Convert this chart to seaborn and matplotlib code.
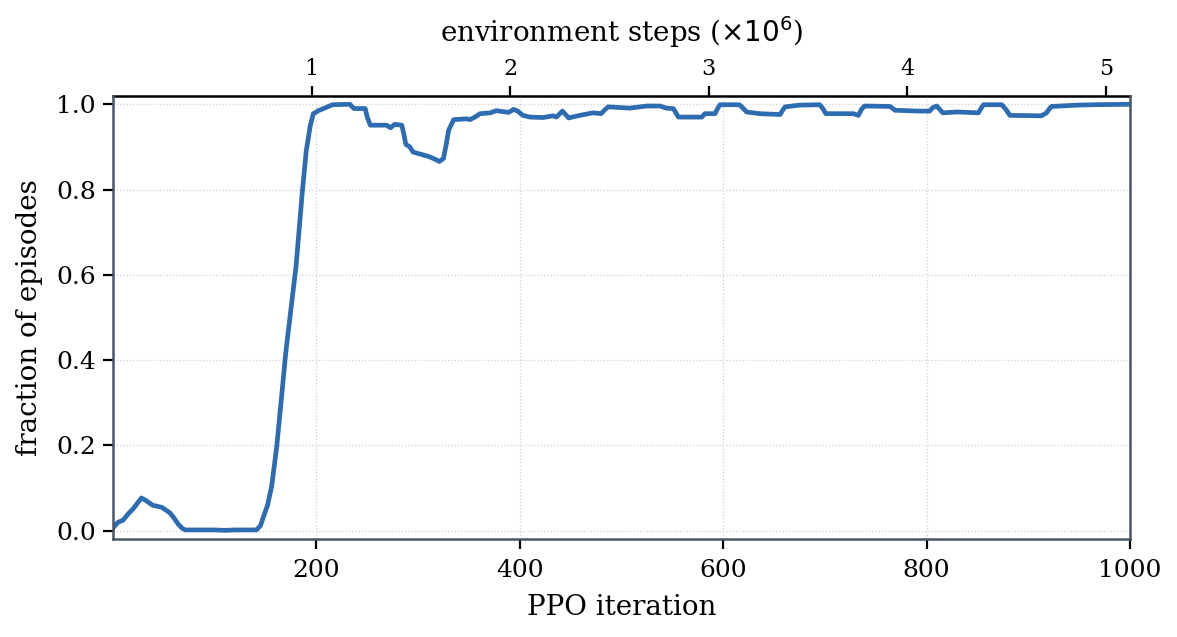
import matplotlib
matplotlib.use("Agg")
import matplotlib.pyplot as plt
import seaborn as sns
import pandas as pd

iterations = [0, 5, 10, 15, 20, 25, 28, 33, 39, 48, 56, 60, 64, 68, 71, 100, 110, 120, 141,
              145, 148, 152, 156, 161, 166, 170, 175, 180, 186, 190, 194, 197, 202, 210, 216,
              233, 237, 248, 250, 253, 269, 273, 277, 284, 286, 288, 292, 295, 310, 315, 321,
              325, 328, 330, 335, 348, 351, 356, 361, 371, 377, 389, 394, 398, 403, 410, 423,
              433, 436, 442, 448, 459, 472, 480, 484, 487, 508, 525, 538, 544, 551, 554, 556,
              579, 582, 592, 595, 597, 616, 620, 623, 636, 656, 659, 661, 675, 695, 698, 701,
              728, 733, 736, 739, 764, 767, 769, 793, 803, 806, 810, 813, 816, 830, 851, 854,
              856, 874, 878, 882, 913, 918, 921, 923, 948, 964, 1000]
fraction = [0.007, 0.02, 0.025, 0.04, 0.052, 0.068, 0.077, 0.07, 0.06, 0.055, 0.042, 0.03,
            0.016, 0.006, 0.002, 0.002, 0.001, 0.002, 0.002, 0.012, 0.033, 0.06, 0.104, 0.197,
            0.32, 0.42, 0.52, 0.62, 0.79, 0.89, 0.95, 0.978, 0.985, 0.993, 0.999, 1.0, 0.99,
            0.99, 0.97, 0.951, 0.951, 0.945, 0.953, 0.951, 0.93, 0.906, 0.9, 0.888, 0.878,
            0.873, 0.866, 0.873, 0.91, 0.939, 0.964, 0.966, 0.964, 0.97, 0.978, 0.98, 0.985,
            0.981, 0.988, 0.984, 0.974, 0.970, 0.969, 0.973, 0.970, 0.984, 0.968, 0.974, 0.980,
            0.978, 0.988, 0.994, 0.991, 0.996, 0.996, 0.991, 0.990, 0.978, 0.970, 0.970, 0.978,
            0.978, 0.992, 0.999, 0.999, 0.99, 0.982, 0.978, 0.976, 0.988, 0.994, 0.998, 0.999,
            0.99, 0.978, 0.978, 0.974, 0.988, 0.996, 0.995, 0.99, 0.986, 0.984, 0.984, 0.992,
            0.996, 0.988, 0.980, 0.982, 0.980, 0.992, 0.999, 0.999, 0.988, 0.974, 0.973, 0.980,
            0.99, 0.995, 0.998, 0.999, 1.0]

x_ticks = [200, 400, 600, 800, 1000]
y_ticks = [0.0, 0.2, 0.4, 0.6, 0.8, 1.0]
top_ticks = [1, 2, 3, 4, 5]
steps_per_iter = 5120

sns.set_theme(style="white")
plt.rcParams['font.family'] = ['DejaVu Serif']
plt.rcParams['mathtext.fontset'] = 'dejavusans'
for k in ["text.color", "axes.labelcolor", "xtick.color", "ytick.color"]:
    plt.rcParams[k] = "black"

df = pd.DataFrame({"iteration": iterations, "fraction": fraction})

fig = plt.figure(figsize=(5.885, 3.185), dpi=200)
ax = fig.add_axes([0.096, 0.154, 0.864, 0.695])
sns.lineplot(data=df, x="iteration", y="fraction", ax=ax, color="#2e6cb2", linewidth=1.7)
for ln in ax.lines:
    ln.set_solid_joinstyle("round")
    ln.set_solid_capstyle("round")

ax.set_xlim(0, 1000)
ax.set_ylim(-0.019, 1.019)
ax.set_xticks(x_ticks)
ax.set_yticks(y_ticks)
ax.set_xticklabels([str(t) for t in x_ticks])
ax.set_yticklabels([f"{t:.1f}" for t in y_ticks])
ax.tick_params(axis="both", labelsize=9, length=3.5, width=0.8, color="black",
               direction="out", bottom=True, left=True)
ax.tick_params(axis="x", pad=3.8)
ax.tick_params(axis="y", pad=2.6)
ax.set_xlabel("PPO iteration", fontsize=10, labelpad=4.2)
ax.set_ylabel("fraction of episodes", fontsize=10, labelpad=4.8)
ax.grid(True, linestyle=":", linewidth=0.45, color="#d0d0d0")

for s in ["left", "right", "bottom"]:
    ax.spines[s].set_color("#4a5468")
    ax.spines[s].set_linewidth(0.9)
ax.spines["top"].set_visible(False)

sec = ax.secondary_xaxis("top", functions=(lambda x: x * steps_per_iter / 1e6,
                                             lambda s: s * 1e6 / steps_per_iter))
sec.set_xticks(top_ticks)
sec.set_xticklabels([str(t) for t in top_ticks])
sec.tick_params(labelsize=8, length=3.5, width=0.8, color="black", pad=2.5)
sec.spines["top"].set_color("black")
sec.spines["top"].set_linewidth(0.9)
sec.set_xlabel(r"environment steps ($\times 10^6$)", fontsize=10, labelpad=5.5)

fig.savefig("out.png", dpi=200)
